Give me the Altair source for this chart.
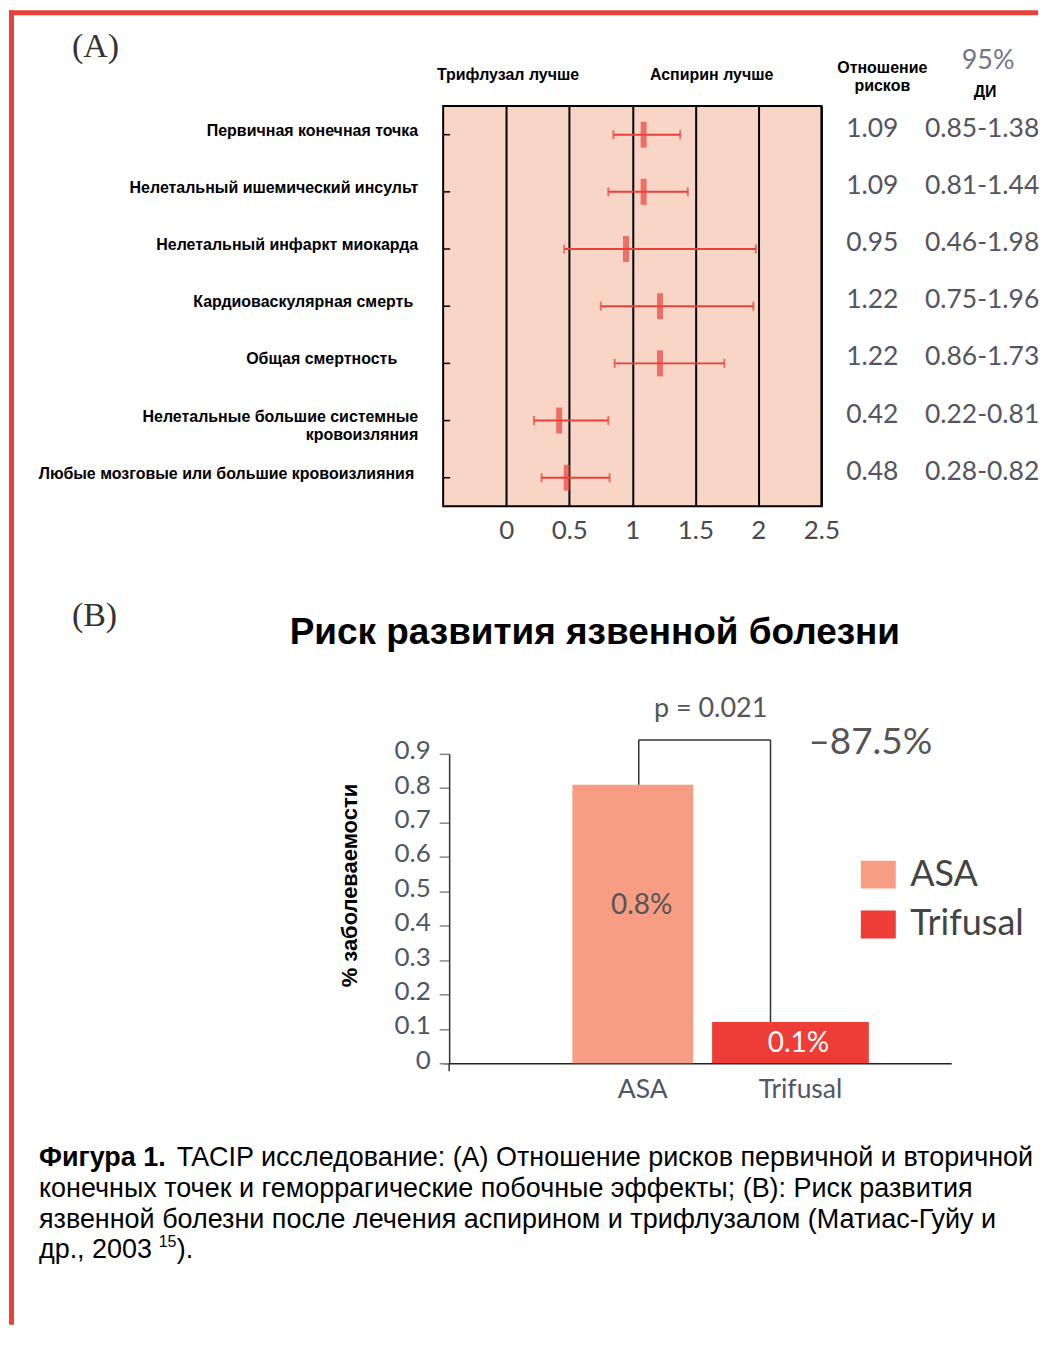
import altair as alt
import pandas as pd

# ---------------- data: panel A (forest plot) ----------------
outcomes = [
    "Первичная конечная точка",
    "Нелетальный ишемический инсульт",
    "Нелетальный инфаркт миокарда",
    "Кардиоваскулярная смерть",
    "Общая смертность",
    "Нелетальные большие системные\nкровоизляния",
    "Любые мозговые или большие кровоизлияния",
]
hazard_ratio = [1.09, 1.09, 0.95, 1.22, 1.22, 0.42, 0.48]
ci_low = [0.85, 0.81, 0.46, 0.75, 0.86, 0.22, 0.28]
ci_high = [1.38, 1.44, 1.98, 1.96, 1.73, 0.81, 0.82]
x_ticks_a = [0, 0.5, 1, 1.5, 2, 2.5]

# ---------------- data: panel B (bar chart) ----------------
groups = ["ASA", "Trifusal"]
incidence = [0.81, 0.12]
bar_labels = ["0.8%", "0.1%"]
bracket_top = 0.94
y_ticks_b = [0, 0.1, 0.2, 0.3, 0.4, 0.5, 0.6, 0.7, 0.8, 0.9]

caption_lines = [
    "TACIP исследование: (A) Отношение рисков первичной и вторичной",
    "конечных точек и геморрагические побочные эффекты; (B): Риск развития",
    "язвенной болезни после лечения аспирином и трифлузалом  (Матиас-Гуйу и",
    "др., 2003",
]

# ---------------- styles ----------------
RED = "#E8413A"
ASA_C = "#F79D83"
TRI_C = "#EE3D36"
BG = "#F9D5C6"
NUM = "#55555f"
AX = "#4f5666"
SANS = "Liberation Sans"
NUMF = "Lato"
SERIF = "Liberation Serif"

one = pd.DataFrame({"k": [0]})


def note(text, x, y, size, font=SANS, color="black", weight="normal", align="center", angle=0):
    kw = dict(text=text, fontSize=size, font=font, color=color, fontWeight=weight,
              align=align, baseline="middle")
    if angle:
        kw["angle"] = angle
    return alt.Chart(one).mark_text(**kw).encode(x=alt.value(x), y=alt.value(y))


def band(x1, x2, y1, y2, color):
    return alt.Chart(one).mark_rect(color=color, strokeWidth=0).encode(
        x=alt.value(x1), x2=alt.value(x2), y=alt.value(y1), y2=alt.value(y2))


def vline(x, y1, y2, color, width):
    return alt.Chart(one).mark_rule(color=color, strokeWidth=width).encode(
        x=alt.value(x), y=alt.value(y1), y2=alt.value(y2))


# ---------------- panel A ----------------
dfA = pd.DataFrame({"outcome": outcomes, "hr": hazard_ratio, "lo": ci_low, "hi": ci_high})
dfA["hr_txt"] = [f"{v:.2f}" for v in hazard_ratio]
dfA["ci_txt"] = [f"{a:.2f}-{b:.2f}" for a, b in zip(ci_low, ci_high)]

xscaleA = alt.Scale(domain=[-0.5, 2.5], nice=False, zero=False)
xaxisA = alt.Axis(values=x_ticks_a, format="~g", grid=True, gridColor="black", gridWidth=2,
                  gridOpacity=1, ticks=False, tickSize=0, domain=False, labelFont=NUMF,
                  labelFontSize=26, labelColor="#4a4a4a", labelPadding=11, labelFlush=False,
                  title=None)
yA = alt.Y("outcome:N", sort=outcomes,
           scale=alt.Scale(domain=outcomes, paddingInner=0, paddingOuter=0), axis=None)


def xa(field):
    return alt.X(field, scale=xscaleA, axis=xaxisA, title=None)


baseA = alt.Chart(dfA)
ci_rule = baseA.mark_rule(color=RED, strokeWidth=2).encode(x=xa("lo:Q"), x2="hi:Q", y=yA)
cap_lo = baseA.mark_tick(color=RED, thickness=2, size=9, orient="vertical").encode(x=xa("lo:Q"), y=yA)
cap_hi = baseA.mark_tick(color=RED, thickness=2, size=9, orient="vertical").encode(x=xa("hi:Q"), y=yA)
point = baseA.mark_tick(color=RED, thickness=6, size=26, orient="vertical").encode(x=xa("hr:Q"), y=yA)
row_ticks = baseA.mark_rule(color="black", strokeWidth=1.5).encode(
    x=alt.value(0), x2=alt.value(7), y=yA)


def row_label_layer(names, dx):
    return baseA.transform_filter(
        alt.FieldOneOfPredicate(field="outcome", oneOf=names)
    ).mark_text(align="right", baseline="middle", font=SANS, fontWeight="bold",
                fontSize=16, lineBreak="\n", dy=-4, dx=dx, color="black").encode(
        x=alt.value(-25), y=yA, text="outcome:N")


labels_main = row_label_layer([outcomes[i] for i in (0, 1, 2, 5)], 0)
labels_card = row_label_layer([outcomes[3]], -5)
labels_mort = row_label_layer([outcomes[4]], -21)
labels_last = row_label_layer([outcomes[6]], -4)

hr_col = baseA.mark_text(align="center", baseline="middle", font=NUMF, fontSize=26.5,
                         color=NUM, dy=-6).encode(x=alt.value(430), y=yA, text="hr_txt:N")
ci_col = baseA.mark_text(align="center", baseline="middle", font=NUMF, fontSize=26.5,
                         color=NUM, dy=-6).encode(x=alt.value(540), y=yA, text="ci_txt:N")

panelA = alt.layer(
    ci_rule, cap_lo, cap_hi, point, row_ticks,
    labels_main, labels_card, labels_mort, labels_last, hr_col, ci_col,
    note("(A)", -372, -59, 34, font=SERIF, color="#333", align="left"),
    note("Трифлузал лучше", 65, -31, 16, weight="bold"),
    note("Аспирин лучше", 269, -31, 16, weight="bold"),
    note("Отношение", 440, -38, 16, weight="bold"),
    note("рисков", 440, -20, 16, weight="bold"),
    note("95%", 546, -45, 27, font=NUMF, color="#6f7585"),
    note("ДИ", 543, -14, 16, weight="bold"),
    band(-435, 596, -96, -91, RED),
    band(-435, -430, -96, 1221, RED),
).properties(width=379, height=401,
             view=alt.ViewBackground(fill=BG, stroke="black", strokeWidth=2))

# ---------------- panel B ----------------
dfB = pd.DataFrame({"group": groups, "value": incidence, "label": bar_labels})
dfB["mid"] = dfB["value"] / 2
dfB["top"] = bracket_top

xscaleB = alt.Scale(domain=groups, paddingInner=0, paddingOuter=0.6108, align=0.575)
xaxisB = alt.Axis(title=None, ticks=False, tickSize=0, labelAngle=0, labelFont=NUMF,
                  labelFontSize=26.5, labelColor=AX, labelPadding=13, labelOffset=10,
                  domainColor="#222", domainWidth=1.5)
yscaleB = alt.Scale(domain=[0, 0.9], nice=False)
yaxisB = alt.Axis(values=y_ticks_b, format="~g", title=None, grid=False, offset=-6, tickSize=10,
                  tickColor="#888", tickWidth=1.5, domainColor="#333", domainWidth=1.5,
                  labelFont=NUMF, labelFontSize=26, labelColor=AX, labelPadding=9,
                  labelOffset=-3)
xB = alt.X("group:N", sort=groups, scale=xscaleB, axis=xaxisB, title=None)


def yb(field):
    return alt.Y(field, scale=yscaleB, axis=yaxisB, title=None)


colorB = alt.Color("group:N", scale=alt.Scale(domain=groups, range=[ASA_C, TRI_C]),
                   legend=alt.Legend(title=None, orient="none", legendX=418, legendY=752,
                                     symbolType="M-1,-0.8H1V0.8H-1Z", symbolSize=1225,
                                     symbolStrokeWidth=0, symbolOpacity=1, labelFont=NUMF,
                                     labelFontSize=36, labelColor="#444", labelOffset=14,
                                     rowPadding=14, padding=0))

baseB = alt.Chart(dfB)
bar_asa = baseB.transform_filter(alt.datum.group == "ASA").mark_bar(width=121).encode(
    x=xB, y=yb("value:Q"), color=colorB)
bar_tri = baseB.transform_filter(alt.datum.group == "Trifusal").mark_bar(width=157).encode(
    x=xB, y=yb("value:Q"), color=colorB)
lab_asa = baseB.transform_filter(alt.datum.group == "ASA").mark_text(
    font=NUMF, fontSize=28, color="#555", dx=9, dy=-18).encode(x=xB, y=yb("mid:Q"), text="label:N")
lab_tri = baseB.transform_filter(alt.datum.group == "Trifusal").mark_text(
    font=NUMF, fontSize=28, color="white", dx=8, dy=1).encode(x=xB, y=yb("mid:Q"), text="label:N")

br_left = baseB.transform_filter(alt.datum.group == "ASA").mark_rule(
    color="#333", strokeWidth=1.5, xOffset=6).encode(x=xB, y=yb("value:Q"), y2="top:Q")
br_right = baseB.transform_filter(alt.datum.group == "Trifusal").mark_rule(
    color="#333", strokeWidth=1.5, xOffset=-20).encode(x=xB, y=yb("value:Q"), y2="top:Q")
br_top = alt.Chart(pd.DataFrame({"a": [groups[0]], "b": [groups[1]], "top": [bracket_top]})).mark_rule(
    color="#333", strokeWidth=1.5, xOffset=6, x2Offset=-20).encode(
    x=alt.X("a:N", sort=groups, scale=xscaleB, axis=xaxisB, title=None), x2="b:N", y=yb("top:Q"))

panelB = alt.layer(
    bar_asa, bar_tri, lab_asa, lab_tri, br_left, br_right, br_top,
    vline(6, 310, 318, "#333", 1.5),
    note("p = 0.021", 268, -45, 27, font=NUMF, color="#555"),
    note("–87.5%", 428, -11, 37, font=NUMF, color="#555"),
    note("(B)", -372, -138, 34, font=SERIF, color="#333", align="left"),
    note("Риск развития язвенной болезни", 152, -121, 37, weight="bold"),
    note("% заболеваемости", -93, 132, 22, weight="bold", angle=270),
    note("Фигура 1.", -405, 405, 27, weight="bold", align="left"),
    note(caption_lines[0], -267, 405, 27, align="left"),
    note(caption_lines[1], -405, 436, 27, align="left"),
    note(caption_lines[2], -405, 467, 27, align="left"),
    note(caption_lines[3], -405, 497, 27, align="left"),
    note("15", -285, 489, 16, align="left"),
    note(").", -267, 497, 27, align="left"),
).properties(width=509, height=310,
             view=alt.ViewBackground(strokeOpacity=0))

chart = alt.vconcat(panelA, panelB, spacing=248, bounds="flush").properties(
    padding=0, background="white"
).configure_view(strokeWidth=0)

chart.save("out.html", embed_options={"renderer": "svg", "actions": False})
